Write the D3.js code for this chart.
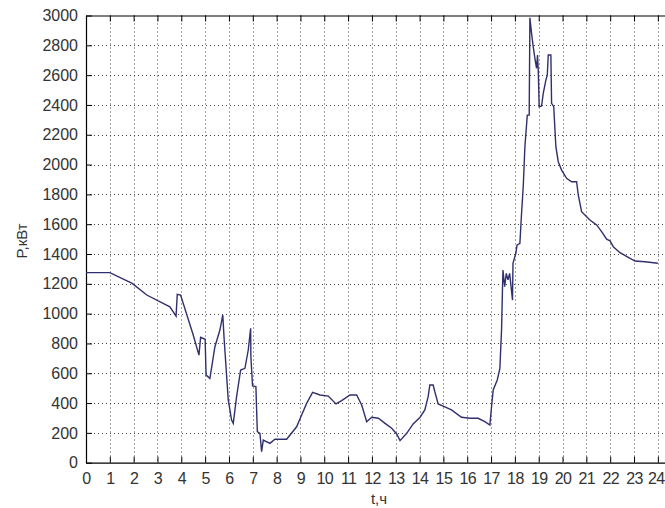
<!DOCTYPE html>
<html>
<head>
<meta charset="utf-8">
<script src="https://cdn.jsdelivr.net/npm/d3@7"></script>
<style>
  html, body { margin: 0; padding: 0; background: #fff; }
  svg { display: block; }
  text { font-family: "Liberation Sans", Arial, sans-serif; fill: #333; }
</style>
</head>
<body>
<svg id="chart" width="665" height="508"></svg>
<script>
// Load profile over one day: time (hours) and active power (kW)
const hours = [
  0, 1.0, 1.94, 2.55, 3.52, 3.78, 3.83, 3.97, 4.5, 4.74, 4.81, 5.0, 5.04, 5.2,
  5.41, 5.62, 5.74, 5.8, 5.97, 6.11, 6.18, 6.32, 6.49, 6.67, 6.81, 6.91, 6.92,
  6.99, 7.13, 7.19, 7.3, 7.37, 7.44, 7.72, 7.93, 8.42, 8.84, 9.05, 9.26, 9.51,
  9.82, 10.17, 10.49, 10.73, 11.08, 11.36, 11.57, 11.78, 11.99, 12.27, 12.55,
  12.83, 13.04, 13.18, 13.46, 13.73, 14.02, 14.22, 14.36, 14.43, 14.57, 14.64,
  14.78, 14.99, 15.34, 15.76, 16.11, 16.46, 16.74, 16.95, 17.02, 17.09, 17.26,
  17.37, 17.44, 17.48, 17.5, 17.57, 17.64, 17.71, 17.78, 17.9, 17.92, 18.04,
  18.09, 18.21, 18.28, 18.35, 18.42, 18.52, 18.6, 18.63, 18.7, 18.77, 18.84,
  18.91, 18.95, 18.98, 19.02, 19.12, 19.19, 19.3, 19.36, 19.4, 19.51, 19.54,
  19.63, 19.72, 19.82, 19.96, 20.17, 20.38, 20.59, 20.66, 20.8, 20.94, 21.15,
  21.43, 21.64, 21.85, 21.99, 22.13, 22.41, 22.76, 23.04, 23.46, 24.0
];
const power = [
  1275, 1275, 1203, 1125, 1046, 984, 1130, 1125, 857, 722, 841, 828, 588, 566,
  778, 890, 991, 823, 421, 286, 264, 443, 622, 633, 756, 902, 711,
  515, 510, 208, 197, 74, 152, 130, 157, 157, 241, 320, 398, 472,
  454, 447, 394, 416, 454, 454, 387, 275, 305, 298, 264,
  231, 193, 148, 197, 260, 305, 354, 443, 521, 521, 476,
  394, 380, 354, 305, 298, 298, 275, 253, 376, 488, 555,
  633, 890, 1170, 1293, 1181, 1270, 1226, 1270, 1091, 1337, 1405,
  1460, 1472, 1673, 1851, 2120, 2332, 2332, 2985, 2880, 2790, 2713,
  2646, 2735, 2634, 2388, 2393, 2478, 2567, 2601, 2735, 2735, 2411,
  2388, 2120, 2019, 1963, 1908, 1885, 1885, 1796, 1684, 1662, 1628,
  1595, 1550, 1499, 1489, 1449, 1409, 1378, 1353, 1348, 1338
];
const xTicks = d3.range(0, 25, 1);
const yTicks = d3.range(0, 3001, 200);
const xLabel = "t,ч";
const yLabel = "P,кВт";

const svg = d3.select("#chart");
const plotLeft = 86, plotRight = 665, plotTop = 15.5, plotBottom = 462.7;

const x = d3.scaleLinear().domain([0, 24.3]).range([plotLeft, plotRight]);
const y = d3.scaleLinear().domain([0, 3000]).range([plotBottom, plotTop]);

// dotted grid
const grid = svg.append("g")
  .attr("stroke", "#444").attr("stroke-width", 1)
  .attr("stroke-dasharray", "1,3").attr("fill", "none");
grid.selectAll("line.v").data(xTicks.filter(d => d > 0)).join("line")
  .attr("class", "v")
  .attr("x1", d => Math.round(x(d)) + 0.5).attr("x2", d => Math.round(x(d)) + 0.5)
  .attr("y1", plotTop).attr("y2", plotBottom);
grid.selectAll("line.h").data(yTicks.filter(d => d > 0 && d < 3000)).join("line")
  .attr("class", "h")
  .attr("y1", d => Math.round(y(d)) + 0.5).attr("y2", d => Math.round(y(d)) + 0.5)
  .attr("x1", plotLeft).attr("x2", plotRight);

// axes with inward ticks
const axB = svg.append("g").attr("transform", `translate(0,${plotBottom})`)
  .call(d3.axisBottom(x).tickValues(xTicks).tickFormat(d3.format("d"))
    .tickSizeInner(-6).tickSizeOuter(0).tickPadding(10));
const axT = svg.append("g").attr("transform", `translate(0,${plotTop})`)
  .call(d3.axisTop(x).tickValues(xTicks).tickFormat("")
    .tickSizeInner(-6).tickSizeOuter(0));
const axL = svg.append("g").attr("transform", `translate(${plotLeft},0)`)
  .call(d3.axisLeft(y).tickValues(yTicks).tickFormat(d3.format("d"))
    .tickSizeInner(-6).tickSizeOuter(0).tickPadding(8));

[axB, axT, axL].forEach(g => {
  g.select(".domain").attr("stroke", "#000").attr("stroke-width", 1.2);
  g.selectAll(".tick line").attr("stroke", "#000").attr("stroke-width", 1);
  g.selectAll(".tick text").attr("font-size", 16).attr("fill", "#333")
    .style("font-family", "'Liberation Sans', Arial, sans-serif");
});
axB.selectAll(".tick text")
  .attr("letter-spacing", "-0.6px")
  .attr("dx", d => d === 24 ? -2 : 0);

// load curve
const line = d3.line()
  .x((d, i) => x(hours[i]))
  .y(d => y(d));
svg.append("path")
  .datum(power)
  .attr("fill", "none")
  .attr("stroke", "#30306e")
  .attr("stroke-width", 1.4)
  .attr("stroke-linejoin", "miter")
  .attr("d", line);

// axis titles
svg.append("text")
  .attr("x", 379).attr("y", 504)
  .attr("text-anchor", "middle").attr("font-size", 15)
  .text(xLabel);
svg.append("text")
  .attr("transform", "translate(27,241) rotate(-90)")
  .attr("text-anchor", "middle").attr("font-size", 15)
  .text(yLabel);
</script>
</body>
</html>
